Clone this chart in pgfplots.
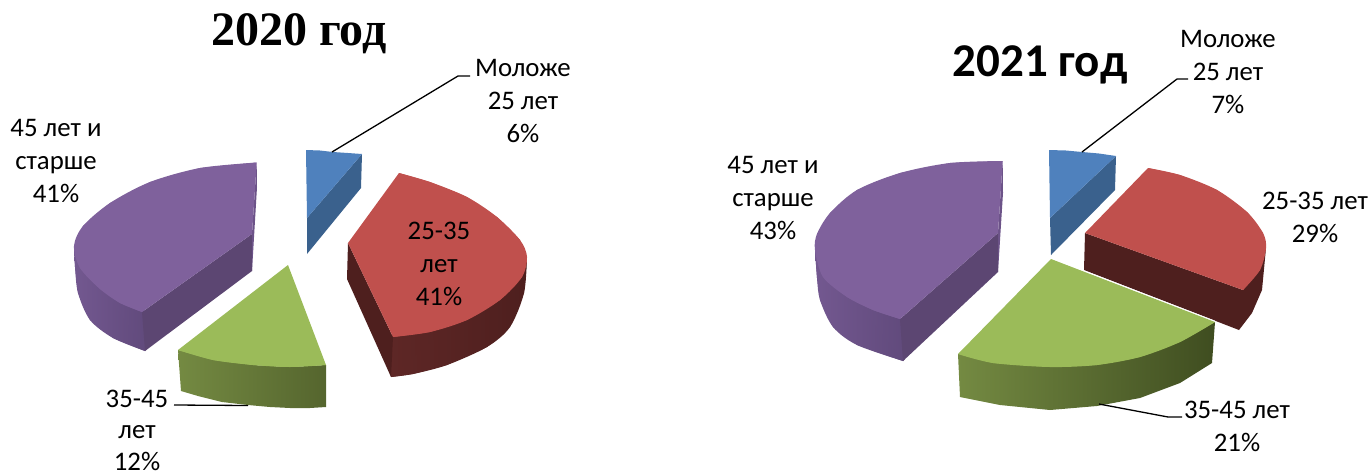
\documentclass[border=0pt]{standalone}
\usepackage{pgfplots}
\pgfplotsset{compat=1.18}
\usepackage{fontspec}
\setmainfont{Carlito}
\newfontfamily\titleserif{Liberation Serif}
\definecolor{pTop}{HTML}{7F619C}
\definecolor{pWall}{HTML}{5C4672}
\definecolor{pL}{HTML}{735890}
\definecolor{pR}{HTML}{614A7C}
\definecolor{pS}{HTML}{6C5388}
\definecolor{rTop}{HTML}{C0504D}
\definecolor{rWall}{HTML}{4E1F1E}
\definecolor{rL}{HTML}{5E2726}
\definecolor{gTop}{HTML}{9BBB59}
\definecolor{gL}{HTML}{748A42}
\definecolor{gM}{HTML}{55652E}
\definecolor{gR}{HTML}{3F4D20}
\definecolor{bTop}{HTML}{4F81BD}
\definecolor{bWall}{HTML}{3A618D}
\tikzset{lab/.style={font=\fontsize{26.8}{33}\selectfont, align=center, inner sep=0pt, text=black}}
\begin{document}
\begin{tikzpicture}
\useasboundingbox (0,0) rectangle (1371pt,472pt);
\begin{axis}[
  at={(0,0)}, anchor=south west,
  width=1371pt, height=472pt, scale only axis,
  xmin=0, xmax=1371, ymin=0, ymax=472, y dir=reverse,
  axis lines=none, clip=true,
]
% ---------- 2020: Moloze 25 let 6, 25-35 let 41, 35-45 let 12, 45 let i starshe 41
% purple
\addplot[draw=none, left color=pL, right color=pR] coordinates {(74,246)(75,267)(78,293)(90,320)(113,338)(145,351)(147,349)(144,312)(90,260)};
\addplot[draw=none, smooth, left color=pL, right color=pR] coordinates {(74,246)(75,267)(78,293)(90,320)(113,338)(145,351)};
\addplot[draw=none, fill=pWall] coordinates {(252,234)(252,271)(145,351)(142,312)};
\addplot[draw=none, fill=pS] coordinates {(256.7,162.5)(257,187)(252,271)(252,234)};
\addplot[draw=none, fill=pTop] coordinates {(256.7,162.5)(200,168)(150,182)(110,203)(83,226)(74,246)(80,268)(100,289)(120,303)(142,312)(252,234)};
\addplot[draw=none, smooth, fill=pTop] coordinates {(256.7,162.5)(200,168)(150,182)(110,203)(83,226)(74,246)(80,268)(100,289)(120,303)(142,312)};
% green
\addplot[draw=none, left color=gL, right color=gM] coordinates {(178,350)(181,391)(198,396)(222,402)(248,405)(270,407)(290,408)(310,408)(326,407)(326,365)(290,367)(253,365)};
\addplot[draw=none, fill=gTop] coordinates {(288,265)(326,365)(290,367)(253,365)(213,360)(178,350)};
\addplot[draw=none, smooth, fill=gTop] coordinates {(326,365)(290,367)(253,365)(213,360)(178,350)};
% red
\addplot[draw=none, left color=rL, right color=rWall] coordinates {(389,337)(391,377)(413,374)(447,365)(487,347)(510,327)(524,293)(527,257)(450,300)};
\addplot[draw=none, smooth, left color=rL, right color=rWall] coordinates {(391,377)(413,374)(447,365)(487,347)(510,327)(524,293)(527,257)};
\addplot[draw=none, fill=rWall] coordinates {(348,243)(347,279)(391,377)(393,337)};
\addplot[draw=none, fill=rTop] coordinates {(399,173)(430,182)(467,197)(497,217)(520,240)(527,257)(522,277)(500,300)(467,320)(430,332)(393,337)(348,243)};
\addplot[draw=none, smooth, fill=rTop] coordinates {(399,173)(430,182)(467,197)(497,217)(520,240)(527,257)(522,277)(500,300)(467,320)(430,332)(393,337)};
% blue
\addplot[draw=none, fill=bWall] coordinates {(362,154)(361,188)(307,254)(307,218)};
\addplot[draw=none, fill=bTop] coordinates {(306,150)(320,150.5)(333,152)(348,153)(362,154)(307,218)};
% leaders
\addplot[black, line width=1.3pt] coordinates {(332,152)(458,76)(470,76)};
\addplot[black, line width=1.3pt] coordinates {(174,405)(248,405.5)};
% ---------- 2021: Moloze 25 let 7, 25-35 let 29, 35-45 let 21, 45 let i starshe 43
% purple
\addplot[draw=none, left color=pL, right color=pR] coordinates {(815,250)(817,278)(820,300)(833,327)(857,345)(903,361)(905,359)(902,319)(850,270)};
\addplot[draw=none, smooth, left color=pL, right color=pR] coordinates {(815,250)(817,278)(820,300)(833,327)(857,345)(903,361)};
\addplot[draw=none, fill=pWall] coordinates {(998,233)(998,272)(903,361)(900,319)};
\addplot[draw=none, fill=pS] coordinates {(1002.7,161)(1003,193)(998,272)(998,233)};
\addplot[draw=none, fill=pTop] coordinates {(1002.7,161)(950,163)(900,173)(857,190)(830,213)(817,234)(815,250)(823,277)(847,297)(873,310)(900,319)(998,233)};
\addplot[draw=none, smooth, fill=pTop] coordinates {(1002.7,161)(950,163)(900,173)(857,190)(830,213)(817,234)(815,250)(823,277)(847,297)(873,310)(900,319)};
% red
\addplot[draw=none, fill=rWall] coordinates {(1085,233)(1084,270)(1239,330)(1252,313)(1262,290)(1266,248)(1243,290)};
\addplot[draw=none, fill=rTop] coordinates {(1148,168)(1180,175)(1217,190)(1247,212)(1263,233)(1266,248)(1260,270)(1243,290)(1085,233)};
\addplot[draw=none, smooth, fill=rTop] coordinates {(1148,168)(1180,175)(1217,190)(1247,212)(1263,233)(1266,248)(1260,270)(1243,290)};
% green
\addplot[draw=none, left color=gL, middle color=gM, right color=gR] coordinates {(958,354)(960,397)(1000,405)(1050,410)(1097,406)(1140,398)(1180,383)(1212,363)(1215,322)(1100,340)};
\addplot[draw=none, fill=gTop] coordinates {(1051,259)(1215,322)(1180,342)(1140,357)(1097,365)(1050,367)(993,363)(958,354)};
\addplot[draw=none, smooth, fill=gTop] coordinates {(1215,322)(1180,342)(1140,357)(1097,365)(1050,367)(993,363)(958,354)};
\addplot[white, line width=0.6pt] coordinates {(1051,258)(1215,321)};
% blue
\addplot[draw=none, fill=bWall] coordinates {(1116,156)(1115,190)(1051,255)(1050,218)};
\addplot[draw=none, fill=bTop] coordinates {(1049,150)(1066,150.5)(1082,152)(1099,153.5)(1116,156)(1050,218)};
% leaders
\addplot[black, line width=1.3pt] coordinates {(1082,152)(1177,79)(1188,79)};
\addplot[black, line width=1.3pt] coordinates {(1099,404)(1168,417)(1182,417)};
% ---------- text
\node[inner sep=0pt] at (axis cs:299,34) {\titleserif\bfseries\fontsize{48}{50}\selectfont 2020 год};
\node[inner sep=0pt] at (axis cs:1040,65) {\bfseries\fontsize{47}{50}\selectfont 2021 год};
\node[lab] at (axis cs:523,101) {Моложе\\25 лет\\6\%};
\node[lab] at (axis cs:56,161) {45 лет и\\старше\\41\%};
\node[lab, font=\fontsize{26.8}{31.5}\selectfont] at (axis cs:137,430) {35-45\\лет\\12\%};
\node[lab] at (axis cs:439,264) {25-35\\лет\\41\%};
\node[lab] at (axis cs:1228,72) {Моложе\\25 лет\\7\%};
\node[lab] at (axis cs:773,198) {45 лет и\\старше\\43\%};
\node[lab] at (axis cs:1315,217) {25-35 лет\\29\%};
\node[lab] at (axis cs:1237,426) {35-45 лет\\21\%};
\end{axis}
\end{tikzpicture}
\end{document}
